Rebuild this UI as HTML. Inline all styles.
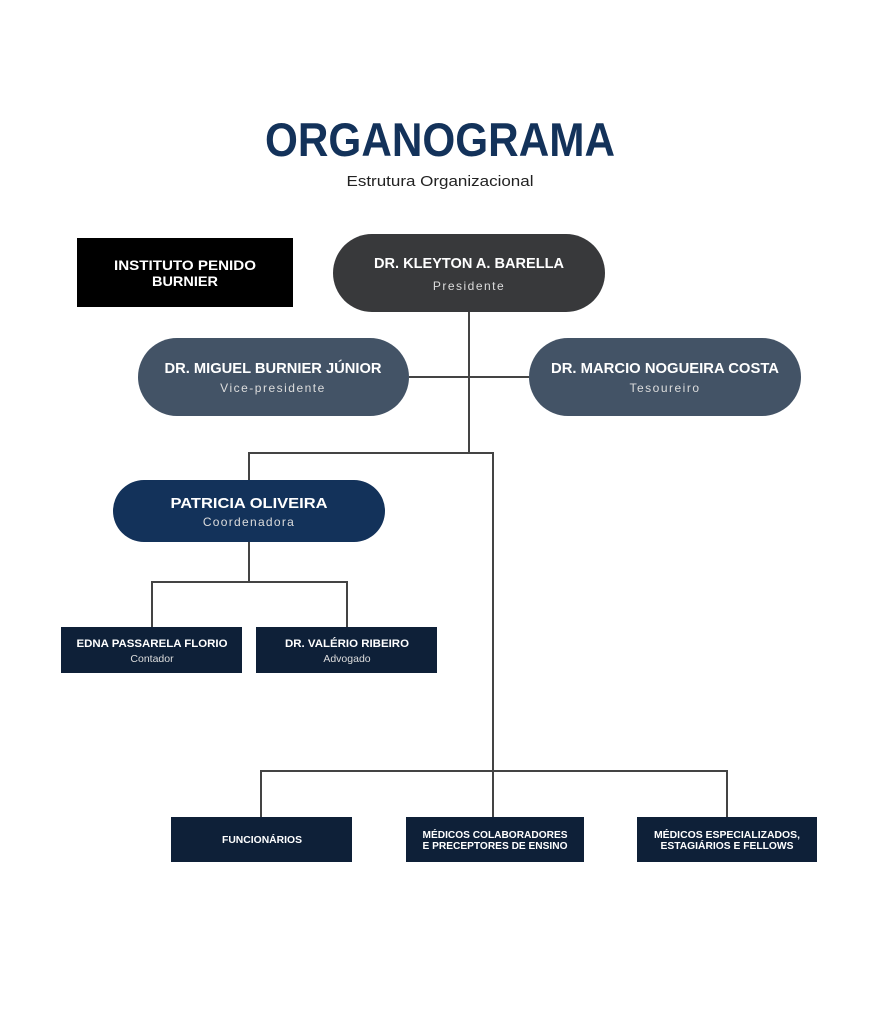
<!DOCTYPE html>
<html><head><meta charset="utf-8"><style>
html,body{margin:0;padding:0;background:#fff;}
svg{display:block;}
text{font-family:"Liberation Sans",sans-serif;}
</style></head><body>
<svg width="879" height="1030" viewBox="0 0 879 1030" xmlns="http://www.w3.org/2000/svg">
<rect width="879" height="1030" fill="#fff"/>
<text x="440" y="156" text-anchor="middle" font-size="47" font-weight="bold" fill="#13325a" textLength="350" lengthAdjust="spacingAndGlyphs">ORGANOGRAMA</text>
<text x="440" y="186" text-anchor="middle" font-size="15" fill="#222" textLength="187" lengthAdjust="spacingAndGlyphs">Estrutura Organizacional</text>

<g stroke="#444" stroke-width="2" fill="none">
<path d="M469 312 V453"/>
<path d="M409 377 H529"/>
<path d="M249 480 V453 H493 V817"/>
<path d="M249 542 V582"/>
<path d="M152 627 V582 H347 V627"/>
<path d="M261 817 V771 H727 V817"/>
</g>

<rect x="77" y="238" width="216" height="69" fill="#000"/>
<text x="185" y="270" text-anchor="middle" font-size="14" font-weight="bold" fill="#fff" textLength="142" lengthAdjust="spacingAndGlyphs">INSTITUTO PENIDO</text>
<text x="185" y="286" text-anchor="middle" font-size="14" font-weight="bold" fill="#fff" textLength="66" lengthAdjust="spacingAndGlyphs">BURNIER</text>

<rect x="333" y="234" width="272" height="78" rx="39" fill="#38393b"/>
<text x="469" y="268" text-anchor="middle" font-size="15" font-weight="bold" fill="#fff" textLength="190" lengthAdjust="spacingAndGlyphs">DR. KLEYTON A. BARELLA</text>
<text x="469" y="290" text-anchor="middle" font-size="12" fill="#ddd" letter-spacing="1.5">Presidente</text>

<rect x="138" y="338" width="271" height="78" rx="39" fill="#435366"/>
<text x="273" y="373" text-anchor="middle" font-size="15" font-weight="bold" fill="#fff" textLength="217" lengthAdjust="spacingAndGlyphs">DR. MIGUEL BURNIER JÚNIOR</text>
<text x="273" y="392" text-anchor="middle" font-size="12" fill="#ddd" letter-spacing="1.5">Vice-presidente</text>

<rect x="529" y="338" width="272" height="78" rx="39" fill="#435366"/>
<text x="665" y="373" text-anchor="middle" font-size="15" font-weight="bold" fill="#fff" textLength="228" lengthAdjust="spacingAndGlyphs">DR. MARCIO NOGUEIRA COSTA</text>
<text x="665" y="392" text-anchor="middle" font-size="12" fill="#ddd" letter-spacing="1.5">Tesoureiro</text>

<rect x="113" y="480" width="272" height="62" rx="31" fill="#13325a"/>
<text x="249" y="508" text-anchor="middle" font-size="15" font-weight="bold" fill="#fff" textLength="157" lengthAdjust="spacingAndGlyphs">PATRICIA OLIVEIRA</text>
<text x="249" y="526" text-anchor="middle" font-size="12" fill="#ddd" letter-spacing="1.3">Coordenadora</text>

<rect x="61" y="627" width="181" height="46" fill="#0e2038"/>
<text x="152" y="647" text-anchor="middle" font-size="11" font-weight="bold" fill="#fff" textLength="151" lengthAdjust="spacingAndGlyphs">EDNA PASSARELA FLORIO</text>
<text x="152" y="662" text-anchor="middle" font-size="10.5" fill="#ddd">Contador</text>

<rect x="256" y="627" width="181" height="46" fill="#0e2038"/>
<text x="347" y="647" text-anchor="middle" font-size="11" font-weight="bold" fill="#fff" textLength="124" lengthAdjust="spacingAndGlyphs">DR. VALÉRIO RIBEIRO</text>
<text x="347" y="662" text-anchor="middle" font-size="10.5" fill="#ddd">Advogado</text>

<rect x="171" y="817" width="181" height="45" fill="#0e2038"/>
<text x="262" y="843" text-anchor="middle" font-size="10" font-weight="bold" fill="#fff" textLength="80" lengthAdjust="spacingAndGlyphs">FUNCIONÁRIOS</text>

<rect x="406" y="817" width="178" height="45" fill="#0e2038"/>
<text x="495" y="838" text-anchor="middle" font-size="10" font-weight="bold" fill="#fff" textLength="145" lengthAdjust="spacingAndGlyphs">MÉDICOS COLABORADORES</text>
<text x="495" y="849" text-anchor="middle" font-size="10" font-weight="bold" fill="#fff" textLength="145" lengthAdjust="spacingAndGlyphs">E PRECEPTORES DE ENSINO</text>

<rect x="637" y="817" width="180" height="45" fill="#0e2038"/>
<text x="727" y="838" text-anchor="middle" font-size="10" font-weight="bold" fill="#fff" textLength="146" lengthAdjust="spacingAndGlyphs">MÉDICOS ESPECIALIZADOS,</text>
<text x="727" y="849" text-anchor="middle" font-size="10" font-weight="bold" fill="#fff" textLength="133" lengthAdjust="spacingAndGlyphs">ESTAGIÁRIOS E FELLOWS</text>
</svg>
</body></html>
